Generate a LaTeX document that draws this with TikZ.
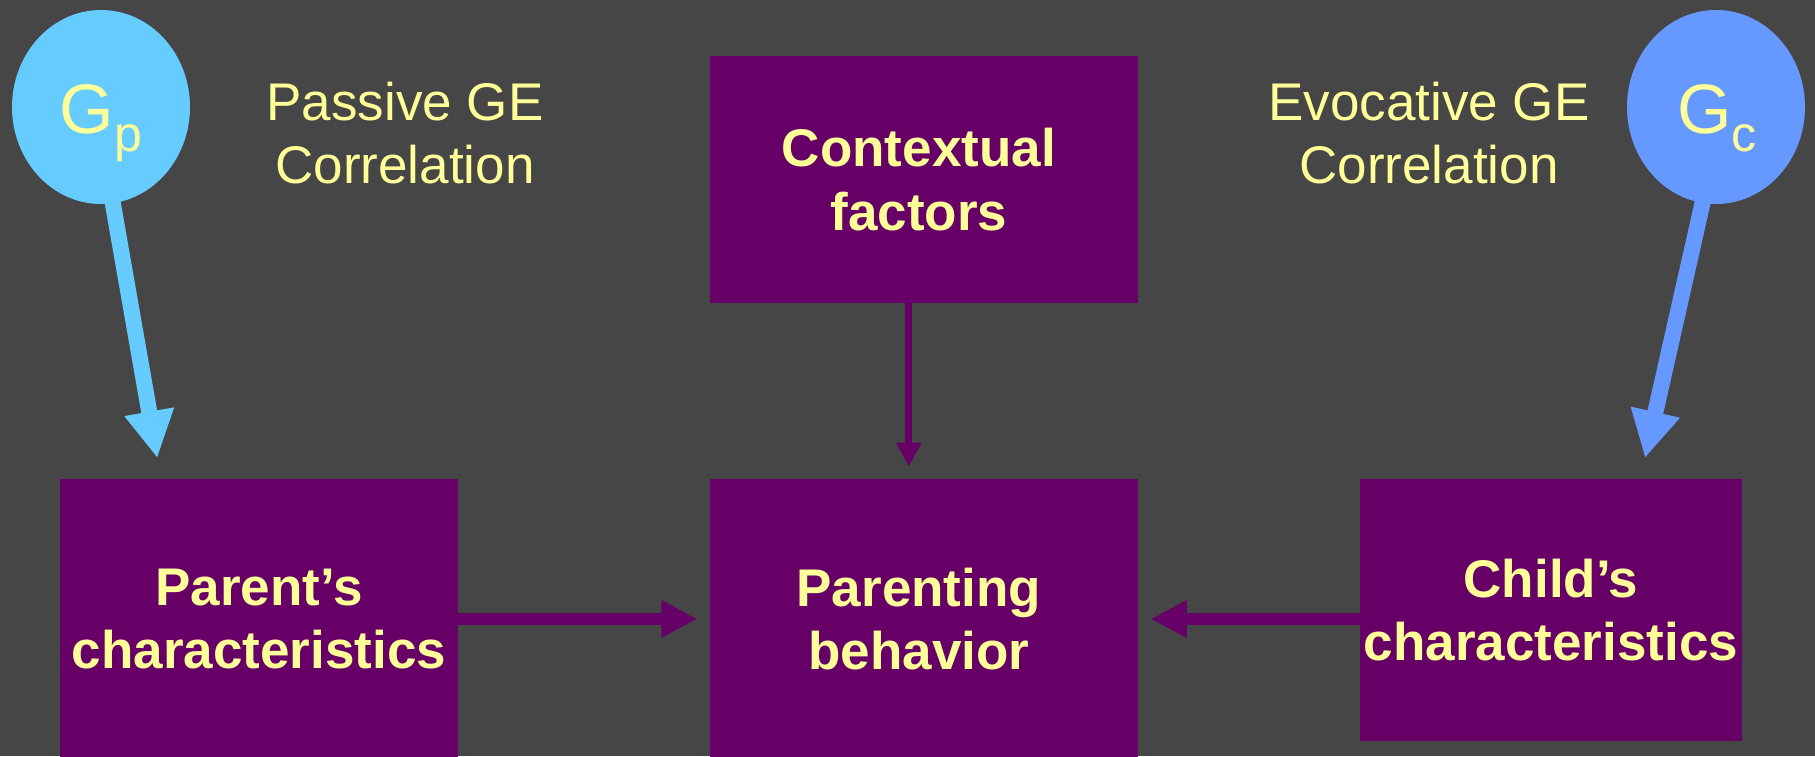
\documentclass[tikz,border=0pt]{standalone}
\usepackage{fontspec}
\setmainfont{Liberation Sans}
\usetikzlibrary{arrows.meta,shapes.geometric,calc}
\definecolor{slate}{HTML}{464646}
\definecolor{plum}{HTML}{660066}
\definecolor{butter}{HTML}{FFFF99}
\definecolor{sky}{HTML}{66CCFF}
\definecolor{cornflower}{HTML}{6699FF}
% trailing space that nudges centred lines a little to the left
\newcommand{\leftnudge}{\hspace*{10pt}}
\begin{document}
\begin{tikzpicture}[x=1pt,y=-1pt,
  factor/.style={fill=plum, inner sep=0pt, text=butter, align=center,
    font=\fontsize{53}{63.5}\selectfont\bfseries},
  gene/.style={ellipse, inner sep=0pt, minimum width=178pt, minimum height=194pt},
  caption/.style={text=butter, align=center, inner sep=0pt,
    font=\fontsize{53}{63}\selectfont},
  genelabel/.style={text=butter, inner sep=0pt, anchor=base},
  bigflow/.style={line width=16pt, -{Triangle[length=47pt,width=47pt]}, shorten <=-4pt},
  flow/.style={plum, line width=12pt, -{Triangle[length=36pt,width=35pt]}},
  thinflow/.style={plum, line width=7.3pt, -{Triangle[length=24pt,width=24pt]}}
]
% canvas
\useasboundingbox (0,0) rectangle (1815,756);
\fill[slate] (0,0) rectangle (1815,756);
\clip (0,0) rectangle (1815,756);

% factor boxes
\node[factor, minimum width=428.5pt, minimum height=247.5pt] (context) at (923.8,179.3) {Contextual\leftnudge\\factors\leftnudge};
\node[factor, minimum width=398pt, minimum height=280pt] (parent) at (259,619) {Parent’s\\characteristics};
\node[factor, minimum width=428.5pt, minimum height=280pt] (behav) at (923.8,619) {Parenting\leftnudge\\behavior\leftnudge};
\node[factor, minimum width=382pt, minimum height=262pt] (child) at (1551,610) {Child’s\\characteristics};

% genetic influences
\node[gene, fill=sky] (Gp) at (101,107) {};
\node[gene, fill=cornflower] (Gc) at (1716,107) {};
\node[genelabel] (gplabel) at (101,133) {\fontsize{70}{70}\selectfont G\raisebox{-18pt}{\fontsize{50}{50}\selectfont p}};
\node[genelabel] (gclabel) at (1717,133) {\fontsize{70}{70}\selectfont G\raisebox{-18pt}{\fontsize{50}{50}\selectfont c}};

% correlation captions
\node[caption] (passive) at (405,133.5) {Passive GE\\Correlation};
\node[caption] (evocative) at (1429,133.5) {Evocative GE\\Correlation};

% connectors
\coordinate (gptip) at (157.3,458);
\coordinate (gctip) at (1645,458);
\draw[bigflow, sky] (Gp.-83) -- (gptip);
\draw[bigflow, cornflower] (Gc.-98.5) -- (gctip);
\draw[thinflow] ($(context.south)+(-15,0)$) -- ($(behav.north)+(-15,-12.3)$);
\draw[flow] (parent.east |- behav.center) -- ($(behav.west)+(-12,0)$);
\draw[flow] (child.west |- behav.center) -- ($(behav.east)+(12.5,0)$);
\end{tikzpicture}
\end{document}
